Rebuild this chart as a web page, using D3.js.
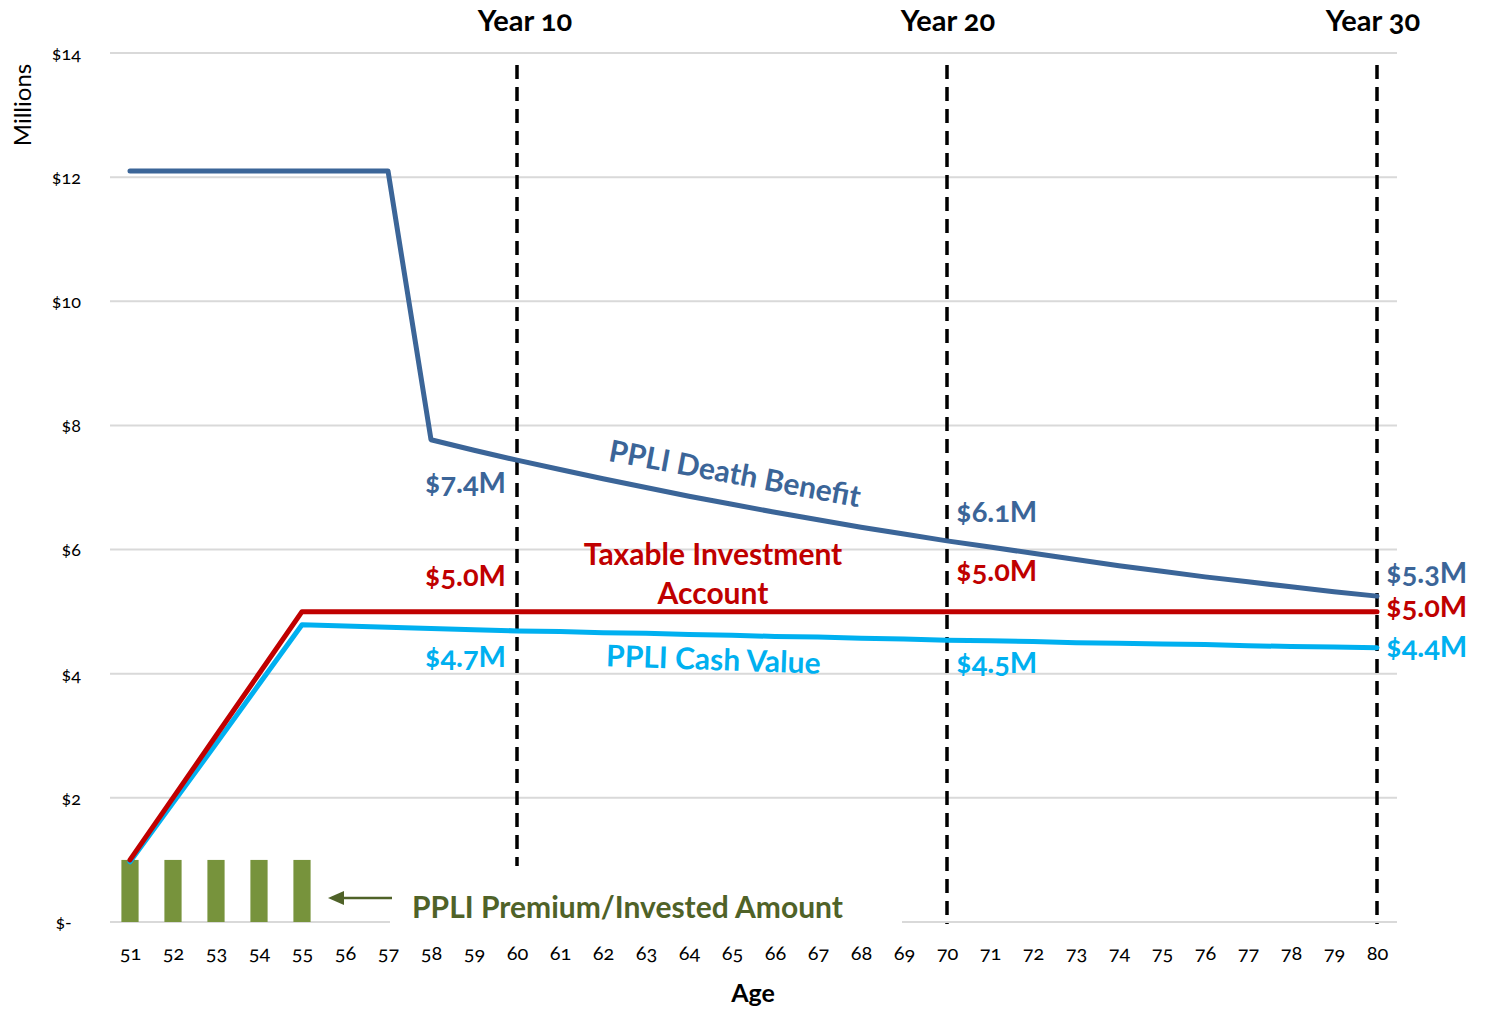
<!DOCTYPE html>
<html>
<head>
<meta charset="utf-8">
<script src="https://cdn.jsdelivr.net/npm/d3@7"></script>
<style>
  body { margin: 0; background: #fff; }
  svg text { font-family: Lato, "Open Sans", sans-serif; font-variant-numeric: oldstyle-nums; }
</style>
</head>
<body>
<div id="chart"></div>
<script>
// Ages on the x axis
const ages = d3.range(51, 81);

// Series values, $ millions
const deathBenefit = [12.1, 12.1, 12.1, 12.1, 12.1, 12.1, 12.1, 7.77, 7.60, 7.44,
    7.29, 7.14, 7.00, 6.86, 6.73, 6.60, 6.48, 6.36, 6.25, 6.14,
    6.04, 5.94, 5.84, 5.74, 5.65, 5.56, 5.48, 5.40, 5.32, 5.25];
const taxable = [1.0, 2.0, 3.0, 4.0, 5.0, 5.0, 5.0, 5.0, 5.0, 5.0,
    5.0, 5.0, 5.0, 5.0, 5.0, 5.0, 5.0, 5.0, 5.0, 5.0,
    5.0, 5.0, 5.0, 5.0, 5.0, 5.0, 5.0, 5.0, 5.0, 5.0];
const cashValue = [0.97, 1.92, 2.87, 3.83, 4.79, 4.77, 4.75, 4.73, 4.71, 4.69,
    4.68, 4.66, 4.65, 4.63, 4.62, 4.60, 4.59, 4.57, 4.56, 4.54,
    4.53, 4.52, 4.50, 4.49, 4.48, 4.47, 4.45, 4.44, 4.43, 4.42];
const premiumAges = [51, 52, 53, 54, 55];
const premium = [1, 1, 1, 1, 1];

// Y ticks and the milestone markers
const yTicks = [0, 2, 4, 6, 8, 10, 12, 14];
const milestoneAges = [60, 70, 80];
const milestoneLabels = ["Year 10", "Year 20", "Year 30"];

// Value call-outs at milestones
const callouts = [
    { age: 60, text: "$7.4M", series: "db" },
    { age: 60, text: "$5.0M", series: "tx" },
    { age: 60, text: "$4.7M", series: "cv" },
    { age: 70, text: "$6.1M", series: "db" },
    { age: 70, text: "$5.0M", series: "tx" },
    { age: 70, text: "$4.5M", series: "cv" },
    { age: 80, text: "$5.3M", series: "db" },
    { age: 80, text: "$5.0M", series: "tx" },
    { age: 80, text: "$4.4M", series: "cv" }
];

const colors = { db: "#3B6598", tx: "#C00000", cv: "#00B0F0", bar: "#77933C", green: "#4F6228" };

const width = 1487, height = 1010;
const svg = d3.select("#chart").append("svg")
    .attr("width", width)
    .attr("height", height);

// Scales
const x = d3.scalePoint()
    .domain(ages)
    .range([108.5, 1398.5])
    .padding(0.5);

const y = d3.scaleLinear()
    .domain([0, 14])
    .range([922, 53]);

// Gridlines
svg.append("g")
    .selectAll("line")
    .data(yTicks)
    .join("line")
    .attr("x1", 110)
    .attr("x2", 1397)
    .attr("y1", d => y(d))
    .attr("y2", d => y(d))
    .attr("stroke", "#D9D9D9")
    .attr("stroke-width", 2);

// Y axis labels
const yAxis = d3.axisLeft(y)
    .tickValues(yTicks)
    .tickSize(0)
    .tickPadding(0)
    .tickFormat(d => d === 0 ? "$-\u00A0\u00A0" : "$" + d);
svg.append("g")
    .attr("transform", "translate(81,0)")
    .call(yAxis)
    .call(g => g.select(".domain").remove())
    .call(g => g.selectAll("text")
        .attr("font-size", 18)
        .attr("fill", "#000")
        .attr("dy", "0.35em")
        .style("font-family", "Lato, sans-serif"));

// X axis labels
const xAxis = d3.axisBottom(x).tickSize(0).tickPadding(0);
svg.append("g")
    .attr("transform", "translate(0,946)")
    .call(xAxis)
    .call(g => g.select(".domain").remove())
    .call(g => g.selectAll("text")
        .attr("font-size", 20)
        .attr("fill", "#000")
        .attr("dy", "0.71em")
        .style("font-family", "Lato, sans-serif"));

svg.append("text")
    .attr("x", 753)
    .attr("y", 1002)
    .attr("text-anchor", "middle")
    .attr("font-size", 25)
    .attr("font-weight", "bold")
    .text("Age");

svg.append("text")
    .attr("transform", "translate(31,105) rotate(-90)")
    .attr("text-anchor", "middle")
    .attr("font-size", 24)
    .text("Millions");

// Premium bars
svg.append("g")
    .selectAll("rect")
    .data(premiumAges)
    .join("rect")
    .attr("x", d => x(d) - x.step() * 0.2)
    .attr("width", x.step() * 0.4)
    .attr("y", (d, i) => y(premium[i]))
    .attr("height", (d, i) => y(0) - y(premium[i]))
    .attr("fill", colors.bar);

// Milestone dashed lines
svg.append("g")
    .selectAll("line")
    .data(milestoneAges)
    .join("line")
    .attr("x1", d => x(d))
    .attr("x2", d => x(d))
    .attr("y1", 65)
    .attr("y2", 924)
    .attr("stroke", "#000")
    .attr("stroke-width", 3.5)
    .attr("stroke-dasharray", "14,8");

// Milestone titles
const titleOffset = [8, 1, -4];
svg.append("g")
    .selectAll("text")
    .data(milestoneAges)
    .join("text")
    .attr("x", (d, i) => x(d) + titleOffset[i])
    .attr("y", 31)
    .attr("text-anchor", "middle")
    .attr("font-size", 29)
    .attr("font-weight", "bold")
    .text((d, i) => milestoneLabels[i]);

// Lines
const line = d3.line()
    .x(d => x(d[0]))
    .y(d => y(d[1]));

const series = [
    { key: "cv", values: cashValue },
    { key: "tx", values: taxable },
    { key: "db", values: deathBenefit }
];

svg.append("g")
    .selectAll("path")
    .data(series)
    .join("path")
    .attr("d", s => line(ages.map((a, i) => [a, s.values[i]])))
    .attr("fill", "none")
    .attr("stroke", s => colors[s.key])
    .attr("stroke-width", 5)
    .attr("stroke-linejoin", "round")
    .attr("stroke-linecap", "round");

// White box behind the premium annotation
svg.append("rect")
    .attr("x", 390)
    .attr("y", 866)
    .attr("width", 512)
    .attr("height", 60)
    .attr("fill", "#fff");

// Arrow pointing to the bars
svg.append("line")
    .attr("x1", 392)
    .attr("x2", 334)
    .attr("y1", 898)
    .attr("y2", 898)
    .attr("stroke", colors.green)
    .attr("stroke-width", 2.5);
svg.append("path")
    .attr("d", "M328,898 L344,891 L344,905 Z")
    .attr("fill", colors.green);

svg.append("text")
    .attr("x", 412)
    .attr("y", 918)
    .attr("font-size", 30)
    .attr("font-weight", "bold")
    .attr("fill", colors.green)
    .text("PPLI Premium/Invested Amount");

// Call-out values
const calloutY = { 60: { db: 493, tx: 586, cv: 667 }, 70: { db: 522, tx: 581, cv: 673 }, 80: { db: 583, tx: 617, cv: 657 } };
svg.append("g")
    .selectAll("text")
    .data(callouts)
    .join("text")
    .attr("x", d => d.age === 60 ? x(d.age) - 11 : x(d.age) + 9)
    .attr("y", d => calloutY[d.age][d.series])
    .attr("text-anchor", d => d.age === 60 ? "end" : "start")
    .attr("font-size", 29)
    .attr("font-weight", "bold")
    .attr("fill", d => colors[d.series])
    .text(d => d.text);

// Series names
svg.append("text")
    .attr("transform", "translate(733,484) rotate(10.5)")
    .attr("text-anchor", "middle")
    .attr("font-size", 30)
    .attr("font-weight", "bold")
    .attr("fill", colors.db)
    .text("PPLI Death Benefit");

svg.append("text")
    .attr("x", 713)
    .attr("y", 565)
    .attr("text-anchor", "middle")
    .attr("font-size", 30)
    .attr("font-weight", "bold")
    .attr("fill", colors.tx)
    .text("Taxable Investment");
svg.append("text")
    .attr("x", 713)
    .attr("y", 604)
    .attr("text-anchor", "middle")
    .attr("font-size", 30)
    .attr("font-weight", "bold")
    .attr("fill", colors.tx)
    .text("Account");

svg.append("text")
    .attr("transform", "translate(713,670) rotate(2)")
    .attr("text-anchor", "middle")
    .attr("font-size", 30)
    .attr("font-weight", "bold")
    .attr("fill", colors.cv)
    .text("PPLI Cash Value");
</script>
</body>
</html>
